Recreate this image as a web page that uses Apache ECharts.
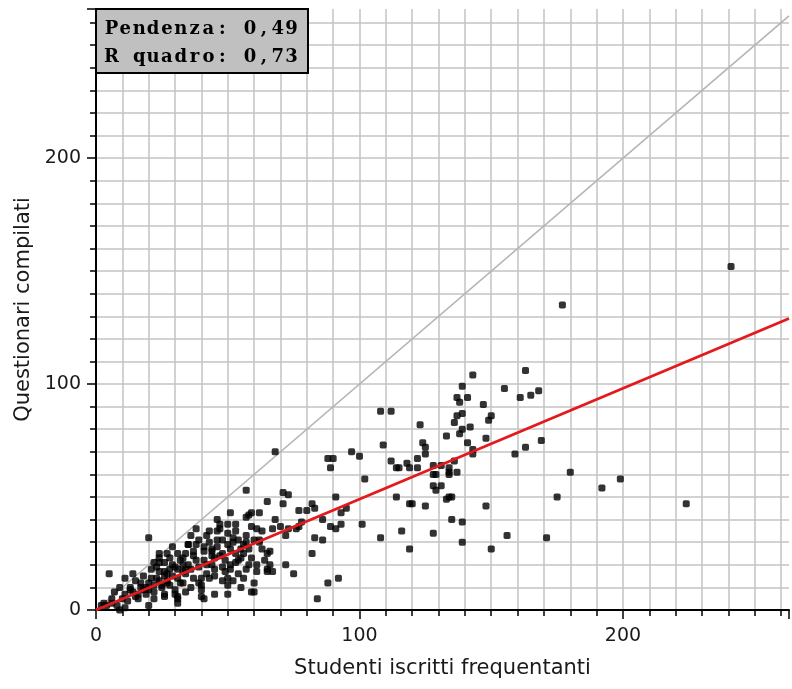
<!DOCTYPE html>
<html>
<head>
<meta charset="utf-8">
<script src="https://cdn.jsdelivr.net/npm/echarts@6/dist/echarts.min.js"></script>
<style>
html,body{margin:0;padding:0;background:#fff;}
#chart{width:792px;height:689px;}
</style>
</head>
<body>
<div id="chart"></div>
<script>
// Studenti iscritti frequentanti (x) and Questionari compilati (y)
const studentiX = [
241,177,143,163,139,155,137,141,161,165,168,138,147,139,137,150,149,136,142,123,139,138,133,148,169,124,163,141,125,143,143,159,122,136,118,115,119,122,128,131,134,128,134,137,180,128,131,199,192,134,135,175,120,125,148,224,156,171,150,108,112,109,125,112,114,129,114,119,135,139,116,128,108,139,119,134,129,133,
97,100,88,90,89,102,71,73,71,91,82,77,80,83,95,93,86,78,70,73,76,77,72,89,91,93,101,83,86,82,72,75,88,92,84,68,65,65,60,66,
57,65,51,62,59,57,46,68,38,43,47,50,53,59,61,63,67,52,54,48,43,57,35,38,41,46,50,56,66,41,44,51,53,34,37,41,45,49,59,64,35,39,42,48,51,58,61,65,67,49,54,34,37,40,43,50,56,60,40,40,40,50,45,50,59,47,58,
20,29,35,24,31,33,22,24,26,29,5,14,21,24,26,31,33,11,15,17,20,24,29,31,9,13,17,20,25,7,11,15,19,30,26,30,34,6,10,22,3,8,2,11,31,31,31,26,19,20,9,27,24,41,
4,6,12,14,16,18,22,23,27,27,28,32,33,
36,39,42,44,46,48,52,55,57,60,62,36,38,44,47,53,55,58,63,42,45,48,51,54,57,61,33,36,39,45,52,55,23,26,28,30,32,18,21,25,27,13,16,22,28,34,37,44,56,62,46,50,53
];
const questionariY = [
152,135,104,106,99,98,94,94,94,95,97,92,91,87,86,86,84,83,81,82,80,78,77,76,75,74,72,74,69,71,69,69,67,66,65,63,63,63,64,64,63,60,60,61,61,55,55,58,54,50,50,50,47,46,46,47,33,32,27,88,88,73,72,66,63,53,50,47,40,39,35,34,32,30,27,61,60,49,
70,68,67,67,63,58,52,51,47,50,47,44,44,45,45,43,40,39,37,36,36,37,33,37,36,38,38,32,31,25,20,16,12,14,5,70,25,17,8,20,
53,48,43,43,43,41,40,40,36,35,36,34,35,37,36,35,36,32,31,31,30,30,29,29,28,28,29,29,26,26,26,27,25,25,24,22,23,22,23,22,20,19,20,19,18,20,17,18,17,17,16,16,14,14,14,14,14,12,11,9,6,11,7,7,8,38,42,
32,28,29,25,25,23,21,21,21,20,16,16,18,17,17,18,17,14,13,12,12,13,15,14,10,10,10,9,10,8,7,6,7,9,7,7,8,5,5,5,3,2,2,1,6,5,3,6,10,2,0,25,23,5,
2,3,4,8,7,9,11,14,12,16,18,12,20,
33,31,33,27,31,25,30,27,33,31,30,18,22,24,24,21,23,27,27,16,18,13,20,22,18,20,12,10,12,15,13,10,19,15,23,19,22,15,14,11,13,9,5,8,11,18,26,20,25,31,35,38,38
];
// reference lines (end points)
const bisectX = [0, 263];
const bisectY = [0, 263];
const trendX = [0, 263];
const trendY = [0, 129];
const xTickLabels = ['0', '100', '200'];
const yTickLabels = ['0', '100', '200'];
const boxLabels = ['Pendenza:', 'R quadro:'];
const boxValues = ['0,49', '0,73'];

const points = studentiX.map((x, i) => [x, questionariY[i]]);
const chart = echarts.init(document.getElementById('chart'), null, {renderer: 'canvas'});
const gridCol = '#c3c3c3';
const tickFont = {fontFamily: '"DejaVu Sans", sans-serif', fontSize: 19, color: '#1a1a1a'};
const nameFont = {fontFamily: '"DejaVu Sans", sans-serif', fontSize: 21, color: '#1a1a1a'};

// monospaced-looking box text: one glyph per cell
const boxFont = 'bold 18px "DejaVu Serif", serif';
const cell = 13.85, cell0 = 111.5;
const boxGraphics = [
  {type: 'rect', shape: {x: 96, y: 9, width: 212, height: 64},
   style: {fill: '#c0c0c0', stroke: '#000', lineWidth: 2}, z: 100}
];
[29, 57].forEach((yy, row) => {
  const line = boxLabels[row] + ' ' + boxValues[row];
  for (let i = 0; i < line.length; i++) {
    if (line[i] === ' ') continue;
    boxGraphics.push({type: 'text', x: cell0 + cell * i, y: yy, z: 101,
      style: {text: line[i], font: boxFont, fill: '#000', align: 'center', verticalAlign: 'middle'}});
  }
});

chart.setOption({
  animation: false,
  backgroundColor: '#fff',
  grid: {left: 96, right: 0, top: 9, bottom: 79, containLabel: false},
  xAxis: [
    {type: 'value', min: 0, max: 263, interval: 10,
     axisLine: {show: true, onZero: false, lineStyle: {color: '#000', width: 2}},
     axisTick: {show: true, length: 6, lineStyle: {color: '#000', width: 1.5}},
     axisLabel: {show: false},
     splitLine: {show: true, showMaxLine: false, lineStyle: {color: gridCol, width: 1.5}}},
    {type: 'value', min: 0, max: 263, interval: 100, position: 'bottom',
     axisLine: {show: false},
     axisTick: {show: true, length: 9, lineStyle: {color: '#000', width: 1.5}},
     axisLabel: Object.assign({show: true, margin: 17,
       formatter: v => (v % 100 === 0 ? xTickLabels[v / 100] : '')}, tickFont),
     splitLine: {show: false},
     name: 'Studenti iscritti frequentanti', nameLocation: 'middle', nameGap: 48,
     nameTextStyle: nameFont}
  ],
  yAxis: [
    {type: 'value', min: 0, max: 266, interval: 10,
     axisLine: {show: true, onZero: false, lineStyle: {color: '#000', width: 2}},
     axisTick: {show: true, length: 6, lineStyle: {color: '#000', width: 1.5}},
     axisLabel: {show: false},
     splitLine: {show: true, showMaxLine: false, lineStyle: {color: gridCol, width: 1.5}}},
    {type: 'value', min: 0, max: 266, interval: 100, position: 'left',
     axisLine: {show: false},
     axisTick: {show: true, length: 9, lineStyle: {color: '#000', width: 1.5}},
     axisLabel: Object.assign({show: true, margin: 15,
       formatter: v => (v % 100 === 0 ? yTickLabels[v / 100] : '')}, tickFont),
     splitLine: {show: false},
     name: 'Questionari compilati', nameLocation: 'middle', nameGap: 62,
     nameTextStyle: nameFont}
  ],
  series: [
    {type: 'scatter', xAxisIndex: 0, yAxisIndex: 0, data: points,
     symbol: 'roundRect', symbolSize: 7, itemStyle: {color: '#000'}, z: 3},
    {type: 'line', xAxisIndex: 0, yAxisIndex: 0, data: bisectX.map((x, i) => [x, bisectY[i]]),
     symbol: 'none', lineStyle: {color: '#b4b4b4', width: 1.6}, z: 2, clip: true},
    {type: 'line', xAxisIndex: 0, yAxisIndex: 0, data: trendX.map((x, i) => [x, trendY[i]]),
     symbol: 'none', lineStyle: {color: '#e3191c', width: 2.8}, z: 4, clip: true}
  ],
  graphic: boxGraphics
});
</script>
</body>
</html>
